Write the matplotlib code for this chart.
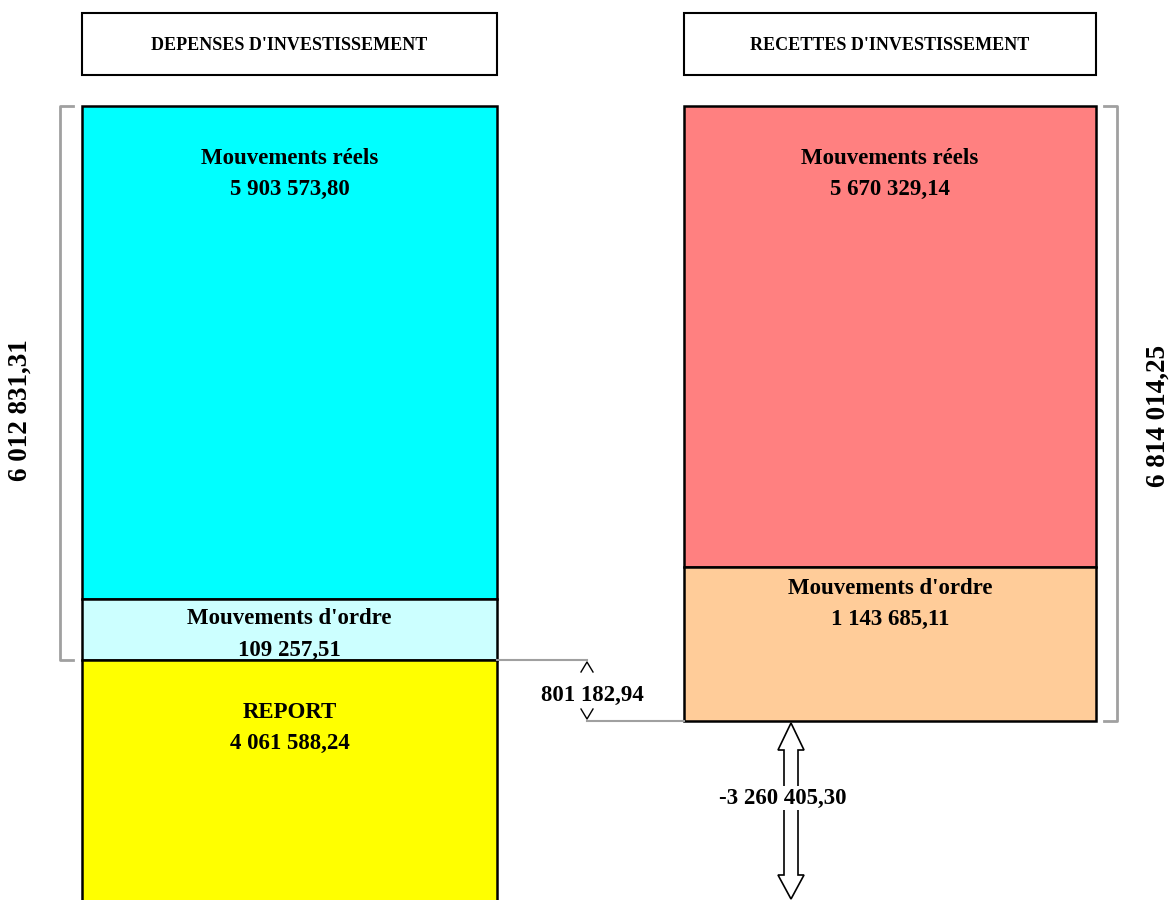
import matplotlib
matplotlib.use("Agg")
import matplotlib.pyplot as plt
from matplotlib.patches import Rectangle, Polygon

plt.rcParams['font.family'] = ['Liberation Serif', 'DejaVu Serif']

# donnees
titres = ["DEPENSES D'INVESTISSEMENT", "RECETTES D'INVESTISSEMENT"]
dep_labels = ["Mouvements réels", "Mouvements d'ordre", "REPORT"]
dep_values = [5903573.80, 109257.51, 4061588.24]
dep_colors = ["#00FFFF", "#CCFFFF", "#FFFF00"]
rec_labels = ["Mouvements réels", "Mouvements d'ordre"]
rec_values = [5670329.14, 1143685.11]
rec_colors = ["#FF8080", "#FFCC99"]

dep_total = dep_values[0] + dep_values[1]
rec_total = sum(rec_values)
ecart = rec_total - dep_total
solde = ecart - dep_values[2]


def fmt(v):
    s = "{:,.2f}".format(abs(v)).replace(",", " ").replace(".", ",")
    return ("-" if v < 0 else "") + s


# mise en page (pixels, schema non proportionnel)
dep_h = [493, 61, 260]
rec_h = [461, 154]
x_dep = (82, 497)
x_rec = (684, 1096)
top = 106
fs = 16.5

fig = plt.figure(figsize=(11.71, 9), dpi=100)
ax = fig.add_axes([0, 0, 1, 1])
ax.set_xlim(0, 1171)
ax.set_ylim(900, 0)
ax.axis('off')

# titres
for (x0, x1), t in zip([x_dep, x_rec], titres):
    ax.add_patch(Rectangle((x0, 13), x1 - x0, 62, fc='white', ec='black', lw=1.5))
    ax.text((x0 + x1) / 2, 45, t, ha='center', va='center', fontsize=13, fontweight='bold')


def colonne(xs, labels, values, colors, heights, offs):
    y = top
    for lab, val, col, h, o in zip(labels, values, colors, heights, offs):
        ax.add_patch(Rectangle((xs[0], y), xs[1] - xs[0], h, fc=col, ec='black', lw=1.8))
        cx = (xs[0] + xs[1]) / 2
        ax.text(cx, y + o, lab, ha='center', va='center', fontsize=fs, fontweight='bold')
        ax.text(cx, y + o + 31, fmt(val), ha='center', va='center', fontsize=fs, fontweight='bold')
        y += h
    return y


colonne(x_dep, dep_labels, dep_values, dep_colors, dep_h, [52, 20, 52])
bas_rec = colonne(x_rec, rec_labels, rec_values, rec_colors, rec_h, [52, 21])
bas_dep = top + dep_h[0] + dep_h[1]

gris = '#A0A0A0'
# accolades
ax.plot([73, 60, 60, 73], [top, top, bas_dep, bas_dep], color=gris, lw=2)
ax.plot([1104, 1117, 1117, 1104], [top, top, bas_rec, bas_rec], color=gris, lw=2)
ax.text(20, (top + bas_dep) / 2 + 27, fmt(dep_total), rotation=90, ha='center', va='center',
        fontsize=19.5, fontweight='bold')
ax.text(1158, (top + bas_rec) / 2 + 2, fmt(rec_total), rotation=90, ha='center', va='center',
        fontsize=19.5, fontweight='bold')

# ecart
xa = 587
ax.plot([x_dep[1], xa], [bas_dep, bas_dep], color=gris, lw=1.5)
ax.plot([xa, x_rec[0]], [bas_rec, bas_rec], color=gris, lw=1.5)
ax.plot([xa - 6, xa, xa + 6], [bas_dep + 12, bas_dep + 2, bas_dep + 12], color='black', lw=1)
ax.plot([xa - 6, xa, xa + 6], [bas_rec - 12, bas_rec - 2, bas_rec - 12], color='black', lw=1)
ax.text(592, 695, fmt(ecart), ha='center', va='center', fontsize=fs, fontweight='bold')

# fleche double
cx = 791
yt, yb = bas_rec + 2, 899
pts = [(cx, yt), (cx + 13, yt + 27), (cx + 7, yt + 27), (cx + 7, yb - 24), (cx + 13, yb - 24),
       (cx, yb), (cx - 13, yb - 24), (cx - 7, yb - 24), (cx - 7, yt + 27), (cx - 13, yt + 27)]
ax.add_patch(Polygon(pts, closed=True, fc='white', ec='black', lw=1.2))
ax.text(783, 798, fmt(solde), ha='center', va='center', fontsize=fs, fontweight='bold',
        bbox=dict(fc='white', ec='none', pad=1))

fig.savefig('out.png', dpi=100)
